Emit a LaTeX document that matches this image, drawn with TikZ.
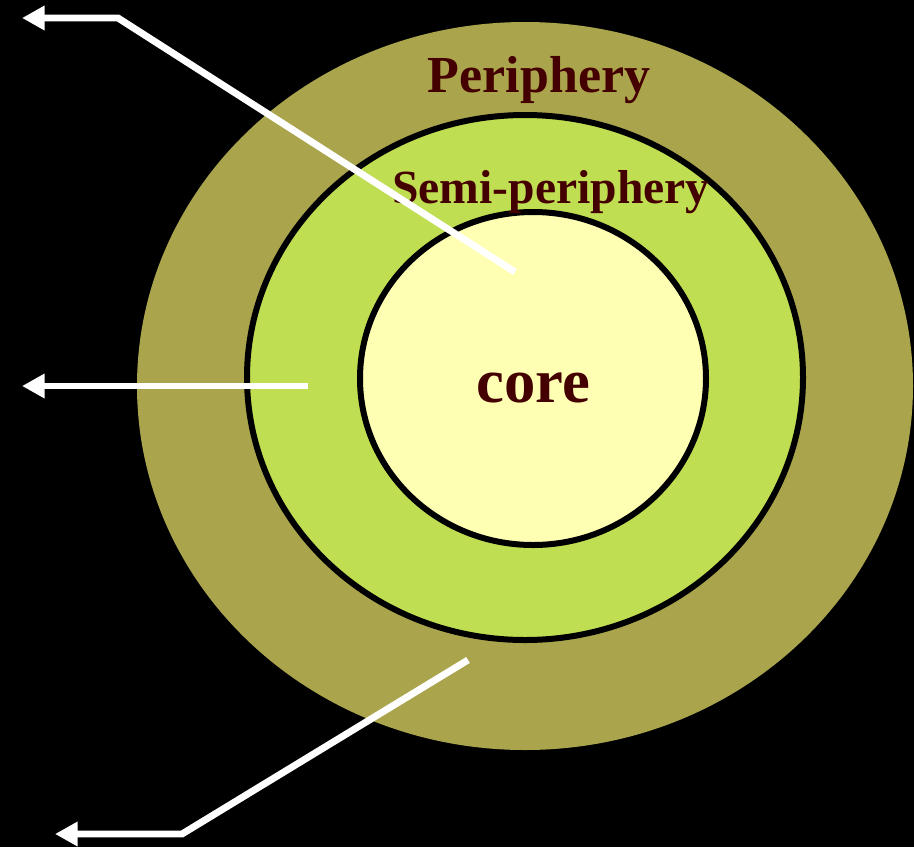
\documentclass[tikz,border=0pt]{standalone}
\usepackage{fontspec}
\setmainfont{Liberation Serif}
\usetikzlibrary{arrows.meta}
\definecolor{perifill}{RGB}{170,165,76}
\definecolor{semifill}{RGB}{192,222,82}
\definecolor{corefill}{RGB}{255,255,180}
\definecolor{labelred}{RGB}{68,0,0}
\tikzset{
  ring/.style={draw=black, line width=4.5pt},
  zonelabel/.style={text=labelred, anchor=base, inner sep=0pt},
  pointer/.style={draw=white, line width=5.2pt, -{Triangle[length=17pt,width=17.5pt]}}
}

\begin{document}
\begin{tikzpicture}[x=0.75pt,y=-0.75pt]
\useasboundingbox[fill=black] (0,0) rectangle (914,847);
% the three zones
\fill[perifill] (525,386) ellipse [x radius=388, y radius=364];
\filldraw[semifill, ring] (525,377.5) ellipse [x radius=278, y radius=262.5];
\filldraw[corefill, ring] (533,378.5) ellipse [x radius=173, y radius=166.5];
\node[zonelabel, font=\bfseries\fontsize{39}{39}\selectfont] (peri) at (539,92) {Periphery};
\node[zonelabel, font=\bfseries\fontsize{35.7}{36}\selectfont] (semi) at (551,203) {Semi-periphery};
\node[zonelabel, font=\bfseries\fontsize{47}{47}\selectfont] (core) at (533,402) {core};
% pointers out to the left
\coordinate (p1) at (515,272);
\coordinate (k1) at (118,18);
\coordinate (e1) at (22,18);
\coordinate (p2) at (308,386);
\coordinate (e2) at (22,386);
\coordinate (p3) at (468,660);
\coordinate (k3) at (182,834);
\coordinate (e3) at (55,834);
\draw[pointer] (p1) -- (k1) -- (e1);
\draw[pointer] (p2) -- (e2);
\draw[pointer] (p3) -- (k3) -- (e3);
\end{tikzpicture}
\end{document}
